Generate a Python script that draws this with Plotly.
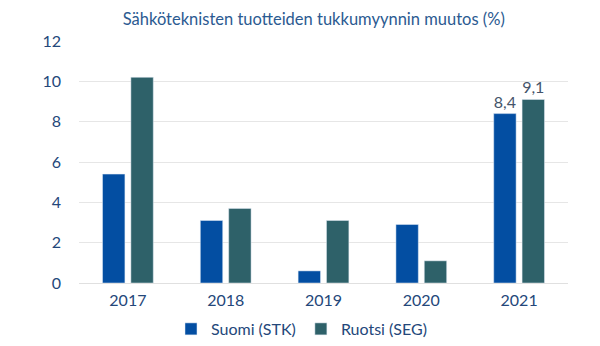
import plotly.graph_objects as go

years = ["2017", "2018", "2019", "2020", "2021"]
suomi = [5.4, 3.1, 0.6, 2.9, 8.4]
ruotsi = [10.2, 3.7, 3.1, 1.1, 9.1]
suomi_labels = ["", "", "", "", "8,4"]
ruotsi_labels = ["", "", "", "", "9,1"]
y_ticks = [0, 2, 4, 6, 8, 10, 12]

FONT = "Lato, 'Open Sans', sans-serif"
TICK_COLOR = "#24477a"

fig = go.Figure()
fig.add_trace(go.Bar(
    x=years, y=suomi, name="Suomi (STK)", marker_color="#034ea2",
    text=suomi_labels, textposition="outside", cliponaxis=False,
    textfont=dict(size=16, color="#44546a", family=FONT),
))
fig.add_trace(go.Bar(
    x=years, y=ruotsi, name="Ruotsi (SEG)", marker_color="#2e6169",
    text=ruotsi_labels, textposition="outside", cliponaxis=False,
    textfont=dict(size=16, color="#44546a", family=FONT),
))

fig.update_layout(
    width=600, height=346,
    margin=dict(l=79, r=32, t=41, b=63, autoexpand=False),
    paper_bgcolor="white", plot_bgcolor="white",
    font=dict(family=FONT, color=TICK_COLOR, size=16),
    title=dict(text="Sähköteknisten tuotteiden tukkumyynnin muutos (%)",
               x=0.523, xanchor="center", y=0.945, yanchor="middle",
               font=dict(size=16.5, color="#2b5a91", family=FONT)),
    barmode="group", bargap=0.42, bargroupgap=0.21,
    showlegend=True,
    legend=dict(orientation="h", x=0.455, xanchor="center", y=-0.19, yanchor="middle",
                font=dict(size=16, color=TICK_COLOR, family=FONT),
                itemwidth=30, traceorder="normal"),
    xaxis=dict(showgrid=False, showline=False, ticks="", tickfont=dict(size=16),
               ticklabelstandoff=6),
    yaxis=dict(range=[0, 12], tickvals=y_ticks, showgrid=True, gridcolor="#e6e6e6",
               zeroline=True, zerolinecolor="#e0e0e0", zerolinewidth=1,
               ticks="", ticklabelstandoff=17, tickfont=dict(size=16)),
)

fig.write_html("out.html")
